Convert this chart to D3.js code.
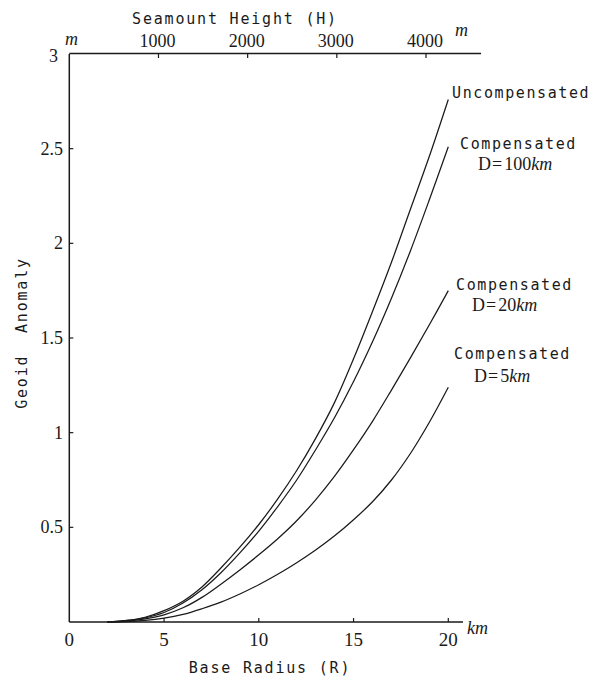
<!DOCTYPE html>
<html><head><meta charset="utf-8">
<script src="https://cdn.jsdelivr.net/npm/d3@7"></script>
<style>body{margin:0;background:#fff}svg text{white-space:pre}</style>
</head><body>
<svg id="c" width="594" height="677"></svg>
<script>
// ---- data ----
const radius        = [2,3,4,5,6,7,8,9,10,11,12,13,14,15,16,17,18,19,20];
const uncompensated = [0,0.008,0.025,0.06,0.11,0.185,0.285,0.395,0.515,0.65,0.80,0.97,1.16,1.39,1.64,1.90,2.18,2.46,2.76];
const compD100      = [0,0.007,0.022,0.05,0.10,0.17,0.26,0.365,0.48,0.61,0.75,0.91,1.08,1.27,1.48,1.71,1.96,2.23,2.51];
const compD20       = [0,0.005,0.017,0.038,0.075,0.13,0.20,0.275,0.355,0.44,0.535,0.645,0.77,0.91,1.06,1.225,1.395,1.57,1.75];
const compD5        = [0,0.002,0.008,0.02,0.04,0.07,0.105,0.148,0.197,0.252,0.313,0.38,0.455,0.54,0.635,0.75,0.89,1.055,1.24];
const xTicks = [0,5,10,15,20];
const yTicks = [0.5,1,1.5,2,2.5];
const hTicks = [1000,2000,3000,4000];
const seriesNames = ["Uncompensated","Compensated","Compensated","Compensated"];
const seriesDepth = [null,"100","20","5"];

// ---- layout ----
const svg = d3.select("#c");
const X0 = 69.3, X20 = 448.3, Y0 = 622, Y3 = 54;
const x = d3.scaleLinear().domain([0,20]).range([X0,X20]);
const xh = d3.scaleLinear().domain([0,4000]).range([X0,426]);
const y = d3.scaleLinear().domain([0,3]).range([Y0,Y3]);
const ink = "#1a1a1a";
const mono = "'DejaVu Sans Mono', monospace";
const serif = "'Liberation Serif', 'Times New Roman', serif";

// axes lines
svg.append("line").attr("x1",X0).attr("x2",X0).attr("y1",Y3).attr("y2",Y0)
  .attr("stroke",ink).attr("stroke-width",1.5);
svg.append("line").attr("x1",X0).attr("x2",463).attr("y1",Y0).attr("y2",Y0)
  .attr("stroke",ink).attr("stroke-width",1.5);
svg.append("line").attr("x1",X0).attr("x2",481).attr("y1",Y3-0.5).attr("y2",Y3-0.5)
  .attr("stroke",ink).attr("stroke-width",1.5);

// bottom ticks (inward)
const gb = svg.append("g");
xTicks.forEach(t=>{
  if(t>0) gb.append("line").attr("x1",x(t)).attr("x2",x(t)).attr("y1",Y0).attr("y2",Y0-4)
    .attr("stroke",ink).attr("stroke-width",1.2);
  gb.append("text").attr("x",x(t)).attr("y",Y0+24).attr("text-anchor","middle")
    .attr("font-family",serif).attr("font-size",19).attr("fill",ink).text(t);
});
svg.append("text").attr("x",467).attr("y",634).attr("font-family",serif)
  .attr("font-style","italic").attr("font-size",18).attr("fill",ink).text("km");

// left ticks
yTicks.forEach(t=>{
  svg.append("line").attr("x1",X0).attr("x2",X0+4).attr("y1",y(t)).attr("y2",y(t))
    .attr("stroke",ink).attr("stroke-width",1.2);
  svg.append("text").attr("x",63).attr("y",y(t)+6).attr("text-anchor","end")
    .attr("font-family",serif).attr("font-size",18).attr("fill",ink).text(t);
});
svg.append("text").attr("x",58).attr("y",62).attr("text-anchor","end")
  .attr("font-family",serif).attr("font-size",18).attr("fill",ink).text("3");
svg.append("text").attr("x",65).attr("y",45).attr("font-family",serif)
  .attr("font-style","italic").attr("font-size",18).attr("fill",ink).text("m");

// top ticks
hTicks.forEach(t=>{
  svg.append("line").attr("x1",xh(t)).attr("x2",xh(t)).attr("y1",Y3).attr("y2",Y3+4)
    .attr("stroke",ink).attr("stroke-width",1.2);
  svg.append("text").attr("x",xh(t)-1).attr("y",47).attr("text-anchor","middle")
    .attr("font-family",serif).attr("font-size",18).attr("fill",ink).text(t);
});
svg.append("text").attr("x",455).attr("y",36).attr("font-family",serif)
  .attr("font-style","italic").attr("font-size",18).attr("fill",ink).text("m");

// axis titles
svg.append("text").attr("x",235).attr("y",24).attr("text-anchor","middle")
  .attr("font-family",mono).attr("font-size",15).attr("letter-spacing",1.8)
  .attr("fill",ink).text("Seamount Height (H)");
svg.append("text").attr("x",270).attr("y",673).attr("text-anchor","middle")
  .attr("font-family",mono).attr("font-size",15).attr("letter-spacing",1.8)
  .attr("fill",ink).text("Base Radius (R)");
svg.append("text").attr("transform","translate(27,333) rotate(-90)").attr("text-anchor","middle")
  .attr("font-family",mono).attr("font-size",15).attr("letter-spacing",1.8)
  .attr("fill",ink).text("Geoid  Anomaly");

// curves
const series = [uncompensated, compD100, compD20, compD5];
const line = d3.line().x(d=>x(d[0])).y(d=>y(d[1])).curve(d3.curveCatmullRom.alpha(0.5));
series.forEach(s=>{
  svg.append("path").attr("d", line(radius.map((r,i)=>[r,s[i]])))
    .attr("fill","none").attr("stroke",ink).attr("stroke-width",1.25);
});

// curve labels
const labelPos = [[452,98,null,null],[460,149,478,170],[456,290,472,311],[454,359,474,382]];
series.forEach((s,i)=>{
  const p = labelPos[i];
  svg.append("text").attr("x",p[0]).attr("y",p[1]).attr("font-family",mono)
    .attr("font-size",15).attr("letter-spacing",1.6).attr("fill",ink).text(seriesNames[i]);
  if(seriesDepth[i]){
    const t = svg.append("text").attr("x",p[2]).attr("y",p[3]).attr("fill",ink);
    t.append("tspan").attr("font-family",serif).attr("font-size",18).text("D");
    t.append("tspan").attr("font-family",serif).attr("font-size",18).attr("dx",1)
      .attr("transform","scale(1.4,1)").text("=");
    t.append("tspan").attr("font-family",serif).attr("font-size",18).attr("dx",2).text(seriesDepth[i]);
    t.append("tspan").attr("font-family",serif).attr("font-style","italic").attr("font-size",18).text("km");
  }
});
</script>
</body></html>
